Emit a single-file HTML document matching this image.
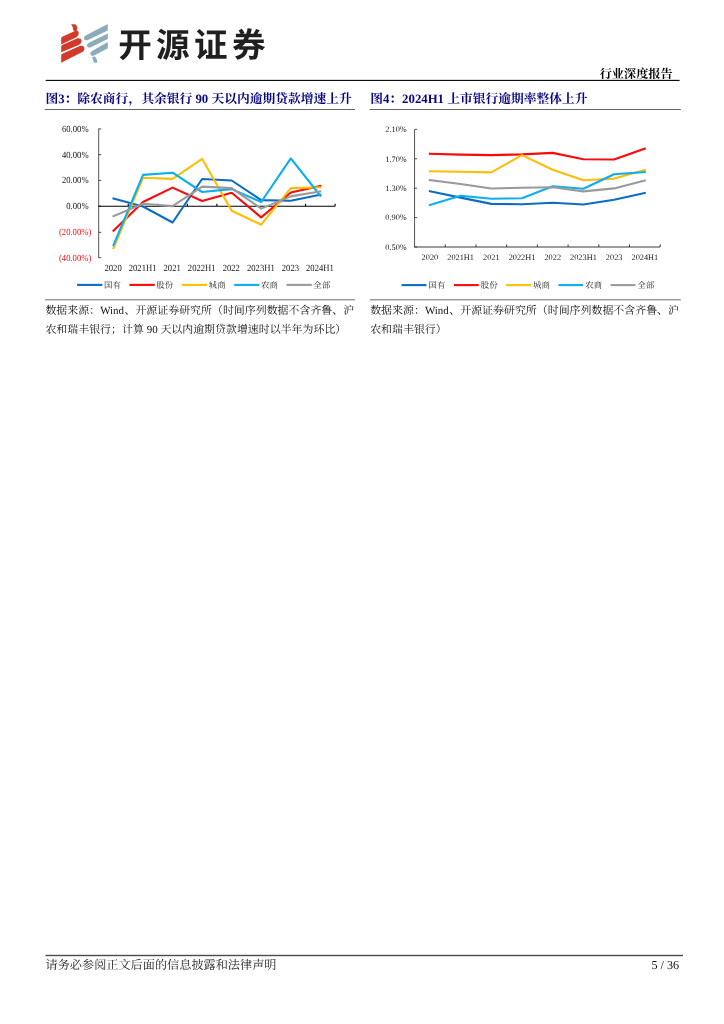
<!DOCTYPE html>
<html lang="zh-CN">
<head>
<meta charset="utf-8">
<title>行业深度报告 - 开源证券</title>
<style>
html,body{margin:0;padding:0;background:#fff}
body{width:724px;height:1024px;position:relative;overflow:hidden;font-family:"Liberation Serif","Noto Serif CJK SC",serif}
svg{display:block;overflow:visible;will-change:transform}
text{font-family:"Liberation Serif","Noto Serif CJK SC",serif;white-space:pre;text-rendering:geometricPrecision}
header,footer,section{position:absolute;left:0;margin:0}
header{top:0}
section.fig{top:90px;left:0}
section.fig.r{left:362px}
footer{top:940px}
</style>
</head>
<body>
<header><svg width="724" height="90" viewBox="0 0 724 90"><g transform="translate(55 18) scale(0.09668)"><g fill="#d23b2c"><path d="M166 64L210 64C232 82 240 110 220 135C210 138 198 134 188 127C190 108 182 86 166 64Z"/><path d="M64 216C64 204 72 196 86 190L200 138C218 130 238 128 244 146C250 166 240 188 222 198L64 274Z"/><path d="M64 298C64 286 72 280 86 274L232 210C252 206 272 212 275 232C277 254 262 270 246 278L64 354Z"/><path d="M64 388C64 376 72 370 86 364L262 288C284 284 303 292 305 312C306 334 290 348 272 358L84 452C74 458 64 464 64 464Z"/></g><g fill="#8cacbc"><path d="M546 64L546 130L346 226C326 236 306 232 300 214C296 198 308 184 326 176L530 70Z"/><path d="M546 160L546 218L376 300C356 310 336 306 331 290C328 274 340 262 356 254Z"/><path d="M546 248L546 312L410 386C390 396 370 392 366 376C363 360 372 348 388 340Z"/><path d="M382 405C396 397 412 396 418 404C432 424 440 446 436 464L402 464C398 440 390 420 382 405Z"/></g></g><text x="118.2 156.1 194 231.9" y="56.8" font-size="33.6" fill="#1f1f1f" font-weight="bold" style="font-family:'Liberation Sans','Noto Sans CJK SC',sans-serif">开源证券</text><text y="77.90" font-size="12.16" fill="#000" font-weight="bold"><tspan x="599.70">行业深度报告</tspan></text><rect x="45.7" y="79.85" width="633.9" height="1.10" fill="#000"/></svg></header>
<main><section class="fig"><svg width="362" height="260" viewBox="0 90 362 260"><text y="102.50" font-size="12.77" fill="#050582" font-weight="bold"><tspan x="45.40">图</tspan><tspan x="58.17">3</tspan><tspan x="64.56">：除农商行，其余银行</tspan><tspan x="192.25"> 90 </tspan><tspan x="211.41">天以内逾期贷款增速上升</tspan></text><rect x="44.80" y="109.25" width="310.20" height="0.70" fill="#222"/><g font-size="8.30" fill="#161616"><text transform="translate(88.60 132.01) scale(1.040 1.130)" text-anchor="end">60.00%</text><text transform="translate(88.60 157.76) scale(1.040 1.130)" text-anchor="end">40.00%</text><text transform="translate(88.60 183.46) scale(1.040 1.130)" text-anchor="end">20.00%</text><text transform="translate(88.60 209.31) scale(1.040 1.130)" text-anchor="end">0.00%</text><text transform="translate(91.30 235.46) scale(1.040 1.130)" text-anchor="end" fill="#f01414">(20.00%)</text><text transform="translate(91.30 260.81) scale(1.040 1.130)" text-anchor="end" fill="#f01414">(40.00%)</text><text transform="translate(113.08 270.95) scale(1.040 1.130)" text-anchor="middle">2020</text><text transform="translate(142.62 270.95) scale(1.040 1.130)" text-anchor="middle">2021H1</text><text transform="translate(172.18 270.95) scale(1.040 1.130)" text-anchor="middle">2021</text><text transform="translate(201.72 270.95) scale(1.040 1.130)" text-anchor="middle">2022H1</text><text transform="translate(231.28 270.95) scale(1.040 1.130)" text-anchor="middle">2022</text><text transform="translate(260.83 270.95) scale(1.040 1.130)" text-anchor="middle">2023H1</text><text transform="translate(290.38 270.95) scale(1.040 1.130)" text-anchor="middle">2023</text><text transform="translate(319.93 270.95) scale(1.040 1.130)" text-anchor="middle">2024H1</text></g><g stroke="#2a2a2a" stroke-width="0.80" fill="none"><path d="M98.70 128.60V258.00M98.70 128.90h2.6M98.70 154.65h2.6M98.70 180.35h2.6M98.70 206.20h2.6M98.70 232.35h2.6M98.70 257.70h2.6"/><path d="M98.30 206.25H335.10M128.25 206.25v-2.6M157.80 206.25v-2.6M187.35 206.25v-2.6M216.90 206.25v-2.6M246.45 206.25v-2.6M276.00 206.25v-2.6M305.55 206.25v-2.6M335.10 206.25v-2.6" stroke="#000" stroke-width="1.10"/></g><g fill="none" stroke-width="2.10" stroke-linejoin="round" stroke-linecap="square"><polyline stroke="#0d6cc4" points="113.5,198.6 143.0,206.5 172.6,222.5 202.1,179.0 231.7,180.5 261.2,200.1 290.8,200.8 320.3,194.7"/><polyline stroke="#fa0a0a" points="113.5,230.8 143.0,202.0 172.6,187.6 202.1,201.0 231.7,192.8 261.2,217.4 290.8,192.5 320.3,185.9"/><polyline stroke="#fdbe06" points="113.5,248.1 143.0,177.8 172.6,178.9 202.1,158.8 231.7,210.8 261.2,224.7 290.8,188.1 320.3,187.3"/><polyline stroke="#0aaff0" points="113.5,245.2 143.0,174.9 172.6,172.7 202.1,192.0 231.7,189.1 261.2,202.0 290.8,158.4 320.3,195.7"/><polyline stroke="#9a9a9a" points="113.5,216.2 143.0,203.7 172.6,206.1 202.1,186.6 231.7,188.1 261.2,208.6 290.8,196.4 320.3,191.4"/></g><line x1="77.1" y1="284.9" x2="102.4" y2="284.9" stroke="#0d6cc4" stroke-width="2.10"/><text y="287.80" font-size="8.40" fill="#1c1c1c"><tspan x="103.90 112.50">国有</tspan></text><line x1="129.4" y1="284.9" x2="154.8" y2="284.9" stroke="#fa0a0a" stroke-width="2.10"/><text y="287.80" font-size="8.40" fill="#1c1c1c"><tspan x="156.25 164.85">股份</tspan></text><line x1="181.8" y1="284.9" x2="207.1" y2="284.9" stroke="#fdbe06" stroke-width="2.10"/><text y="287.80" font-size="8.40" fill="#1c1c1c"><tspan x="208.60 217.20">城商</tspan></text><line x1="234.2" y1="284.9" x2="259.4" y2="284.9" stroke="#0aaff0" stroke-width="2.10"/><text y="287.80" font-size="8.40" fill="#1c1c1c"><tspan x="260.95 269.55">农商</tspan></text><line x1="286.5" y1="284.9" x2="311.8" y2="284.9" stroke="#9a9a9a" stroke-width="2.10"/><text y="287.80" font-size="8.40" fill="#1c1c1c"><tspan x="313.30 321.90">全部</tspan></text><rect x="45.00" y="298.95" width="310.00" height="1.50" fill="#9a9a9a"/><text y="313.90" font-size="10.95" fill="#111"><tspan x="45.40">数据来源：</tspan><tspan x="100.15">Wind</tspan><tspan x="124.48">、开源证券研究所（时间序列数据不含齐鲁、沪</tspan></text><text y="332.70" font-size="10.95" fill="#111"><tspan x="45.40">农和瑞丰银行；计算</tspan><tspan x="143.95"> 90 </tspan><tspan x="160.38">天以内逾期贷款增速时以半年为环比）</tspan></text></svg></section>
<section class="fig r"><svg width="362" height="260" viewBox="362 90 362 260"><text y="102.50" font-size="12.77" fill="#050582" font-weight="bold"><tspan x="370.20">图</tspan><tspan x="382.97">4</tspan><tspan x="389.35">：</tspan><tspan x="402.12">2024H1 </tspan><tspan x="447.18">上市银行逾期率整体上升</tspan></text><rect x="369.60" y="109.25" width="311.20" height="0.70" fill="#222"/><g font-size="8.30" fill="#161616"><text transform="translate(406.70 132.15)" text-anchor="end">2.10%</text><text transform="translate(406.70 161.55)" text-anchor="end">1.70%</text><text transform="translate(406.70 190.95)" text-anchor="end">1.30%</text><text transform="translate(406.70 220.35)" text-anchor="end">0.90%</text><text transform="translate(406.70 249.75)" text-anchor="end">0.50%</text><text transform="translate(429.90 259.70)" text-anchor="middle">2020</text><text transform="translate(460.61 259.70)" text-anchor="middle">2021H1</text><text transform="translate(491.32 259.70)" text-anchor="middle">2021</text><text transform="translate(522.02 259.70)" text-anchor="middle">2022H1</text><text transform="translate(552.73 259.70)" text-anchor="middle">2022</text><text transform="translate(583.43 259.70)" text-anchor="middle">2023H1</text><text transform="translate(614.14 259.70)" text-anchor="middle">2023</text><text transform="translate(644.85 259.70)" text-anchor="middle">2024H1</text></g><g stroke="#2a2a2a" stroke-width="0.80" fill="none"><path d="M414.55 129.40V247.00M414.55 129.40h2.6M414.55 158.80h2.6M414.55 188.20h2.6M414.55 217.60h2.6M414.55 247.00h2.6"/><path d="M414.15 247.00H660.20M445.26 247.00v-2.6M475.96 247.00v-2.6M506.67 247.00v-2.6M537.38 247.00v-2.6M568.08 247.00v-2.6M598.79 247.00v-2.6M629.49 247.00v-2.6M660.20 247.00v-2.6" stroke="#3a3a3a" stroke-width="1.00"/></g><g fill="none" stroke-width="2.10" stroke-linejoin="round" stroke-linecap="square"><polyline stroke="#0d6cc4" points="429.9,191.3 460.6,197.6 491.3,203.9 522.0,204.2 552.7,202.7 583.4,204.5 614.1,199.8 644.8,192.9"/><polyline stroke="#fa0a0a" points="429.9,153.7 460.6,154.6 491.3,155.1 522.0,154.4 552.7,152.9 583.4,159.2 614.1,159.5 644.8,148.6"/><polyline stroke="#fdbe06" points="429.9,171.2 460.6,171.8 491.3,172.4 522.0,155.1 552.7,169.8 583.4,180.3 614.1,178.6 644.8,170.1"/><polyline stroke="#0aaff0" points="429.9,204.9 460.6,195.8 491.3,198.8 522.0,198.3 552.7,186.2 583.4,188.8 614.1,174.2 644.8,172.0"/><polyline stroke="#9a9a9a" points="429.9,180.0 460.6,184.0 491.3,188.5 522.0,187.8 552.7,187.3 583.4,191.4 614.1,188.4 644.8,180.5"/></g><line x1="401.6" y1="285.1" x2="426.5" y2="285.1" stroke="#0d6cc4" stroke-width="2.10"/><text y="288.00" font-size="8.40" fill="#1c1c1c"><tspan x="428.50 437.10">国有</tspan></text><line x1="453.9" y1="285.1" x2="478.8" y2="285.1" stroke="#fa0a0a" stroke-width="2.10"/><text y="288.00" font-size="8.40" fill="#1c1c1c"><tspan x="480.75 489.35">股份</tspan></text><line x1="506.1" y1="285.1" x2="531.0" y2="285.1" stroke="#fdbe06" stroke-width="2.10"/><text y="288.00" font-size="8.40" fill="#1c1c1c"><tspan x="533.00 541.60">城商</tspan></text><line x1="558.4" y1="285.1" x2="583.2" y2="285.1" stroke="#0aaff0" stroke-width="2.10"/><text y="288.00" font-size="8.40" fill="#1c1c1c"><tspan x="585.25 593.85">农商</tspan></text><line x1="610.6" y1="285.1" x2="635.5" y2="285.1" stroke="#9a9a9a" stroke-width="2.10"/><text y="288.00" font-size="8.40" fill="#1c1c1c"><tspan x="637.50 646.10">全部</tspan></text><rect x="369.80" y="298.95" width="311.00" height="1.50" fill="#9a9a9a"/><text y="313.90" font-size="10.95" fill="#111"><tspan x="370.20">数据来源：</tspan><tspan x="424.95">Wind</tspan><tspan x="449.28">、开源证券研究所（时间序列数据不含齐鲁、沪</tspan></text><text y="332.70" font-size="10.95" fill="#111"><tspan x="370.20">农和瑞丰银行）</tspan></text></svg></section></main>
<footer><svg width="724" height="64" viewBox="0 940 724 64"><rect x="45.5" y="954.80" width="637.5" height="1.40" fill="#4a4a4a"/><text y="968.70" font-size="12.16" fill="#1c1c1c"><tspan x="45.50">请务必参阅正文后面的信息披露和法律声明</tspan></text><text x="679.2" y="968.6" font-size="12.16" text-anchor="end" fill="#111">5 / 36</text></svg></footer>
</body>
</html>
